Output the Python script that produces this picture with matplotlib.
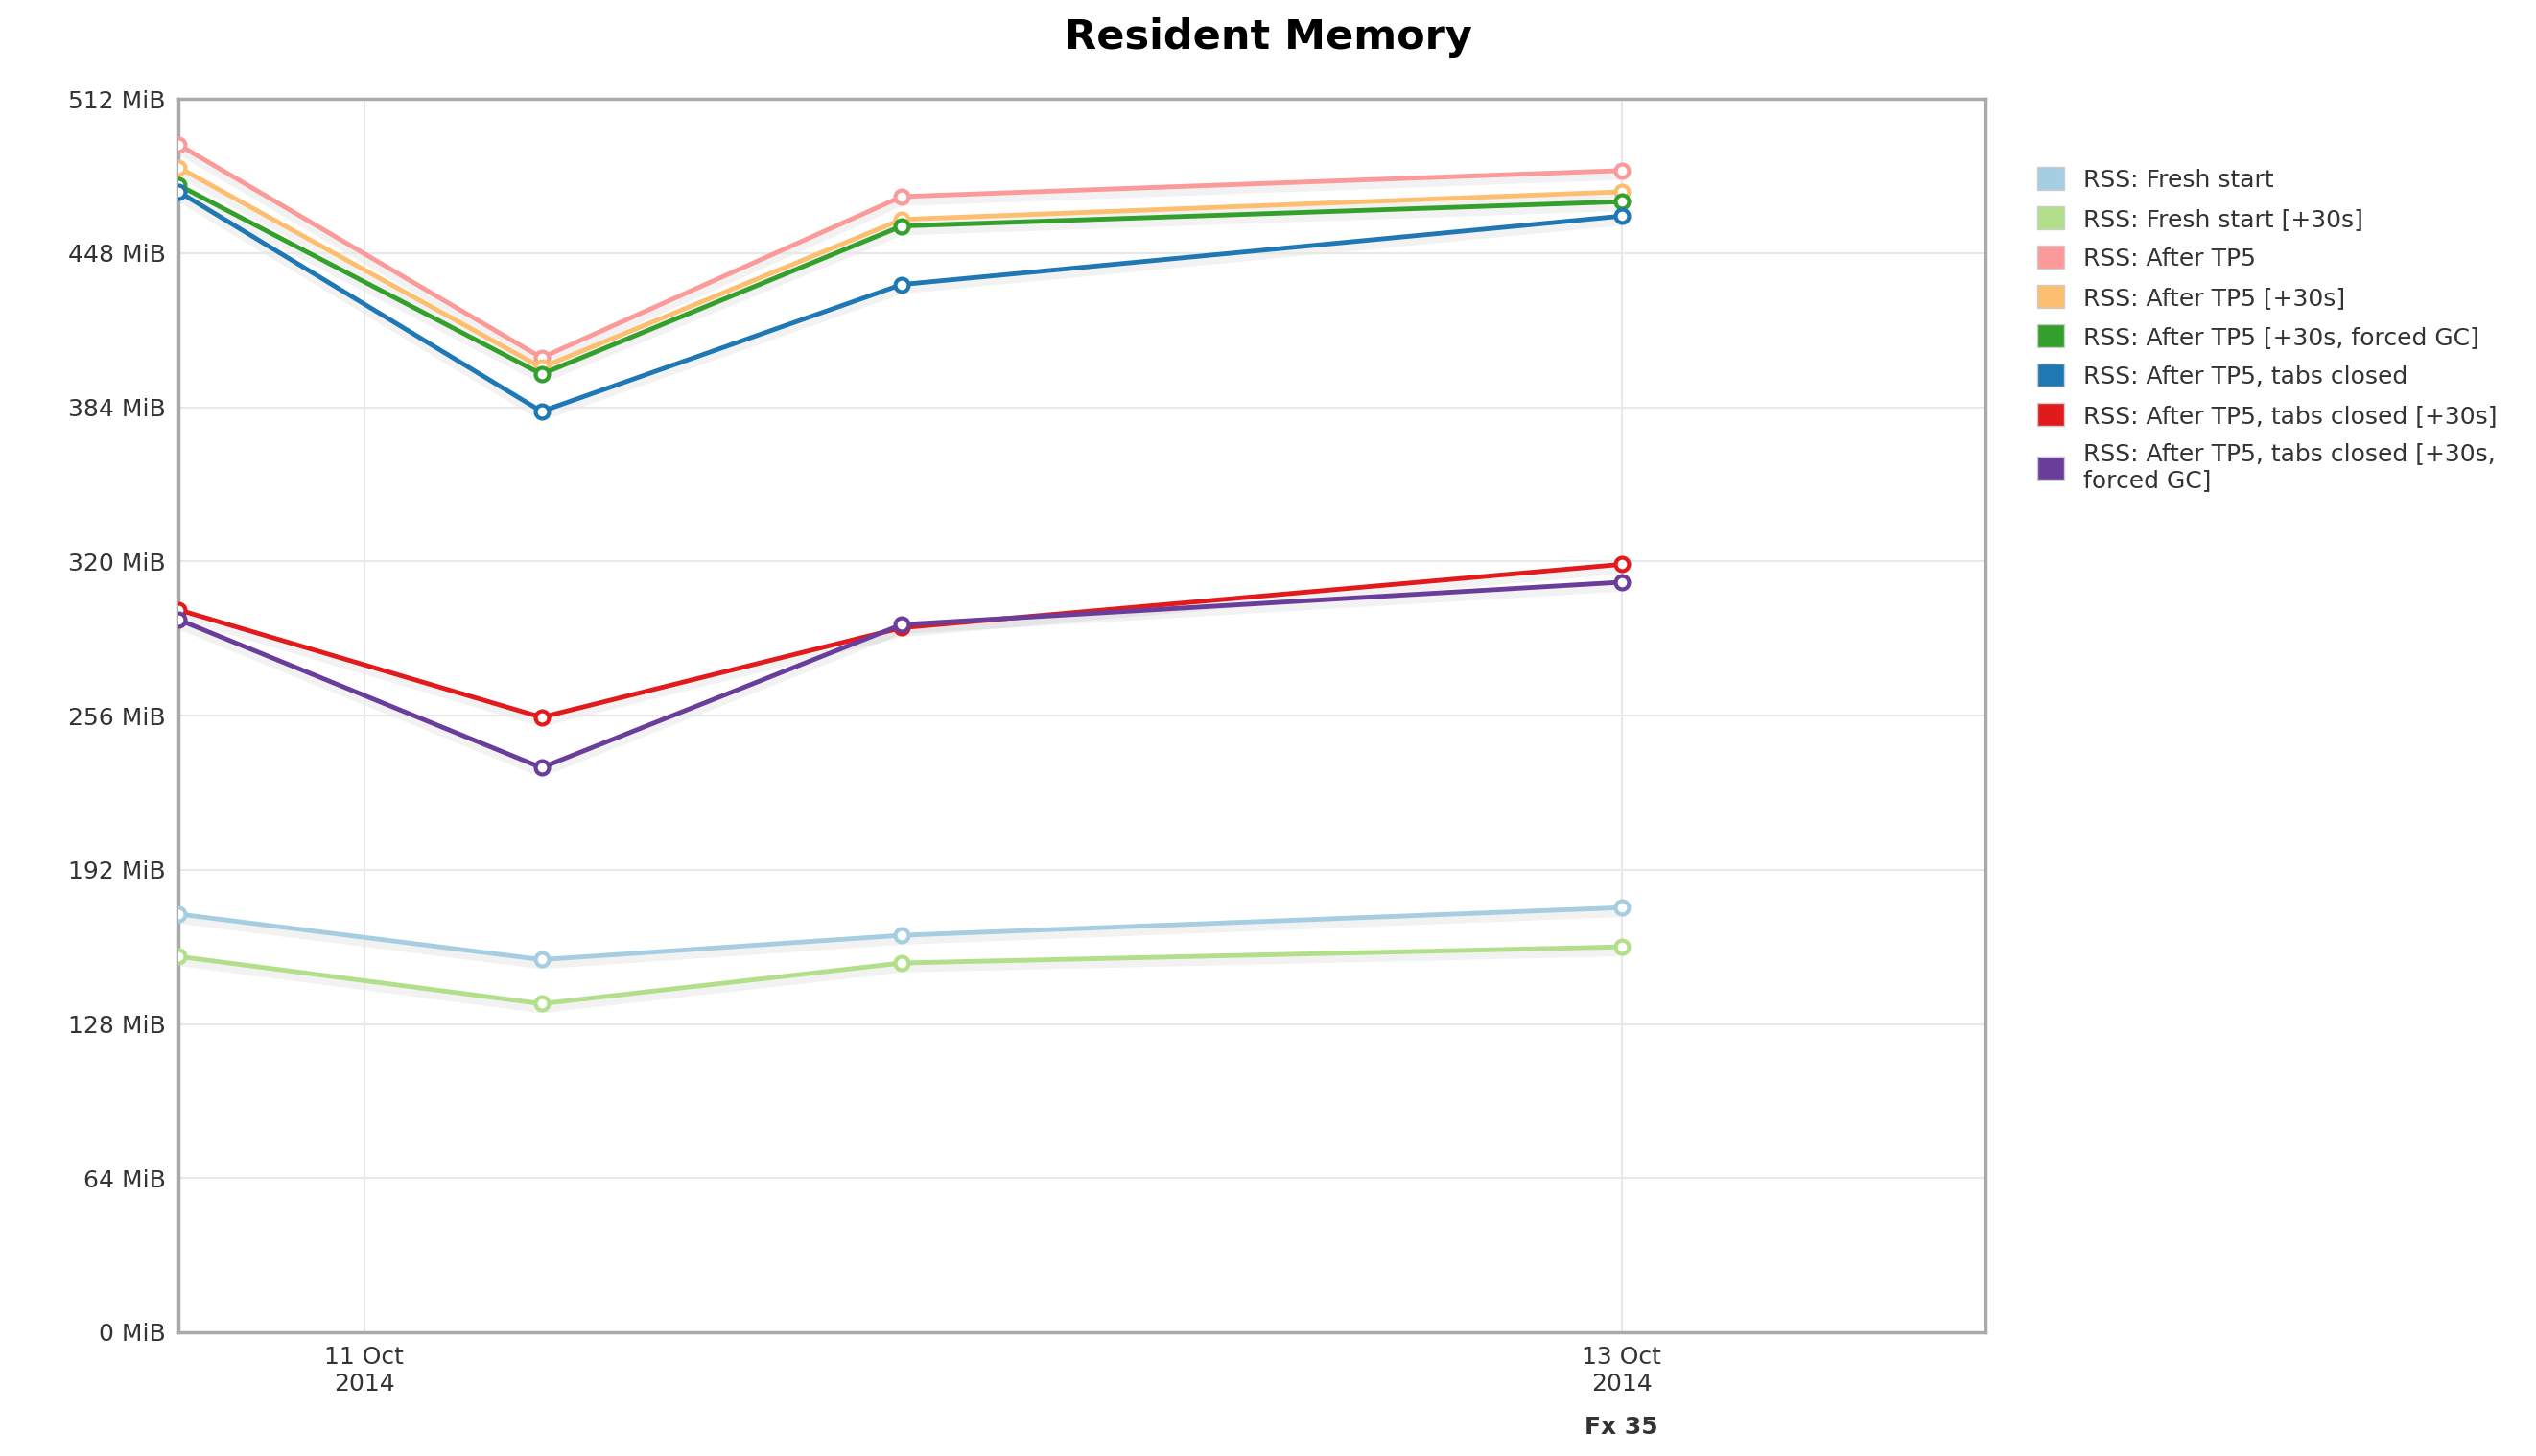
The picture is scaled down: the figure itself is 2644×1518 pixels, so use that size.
import matplotlib
matplotlib.use("Agg")
import matplotlib.pyplot as plt
from matplotlib.patches import Patch

# x in days relative to 11 Oct 2014 00:00
x = [-0.295, 0.282, 0.855, 2.0]
series_names = ["RSS: Fresh start", "RSS: Fresh start [+30s]", "RSS: After TP5", "RSS: After TP5 [+30s]",
                "RSS: After TP5 [+30s, forced GC]", "RSS: After TP5, tabs closed",
                "RSS: After TP5, tabs closed [+30s]", "RSS: After TP5, tabs closed [+30s,\nforced GC]"]
fresh = [173.6, 154.7, 164.8, 176.3]
fresh30 = [156.0, 136.4, 153.3, 160.0]
tp5 = [493.0, 404.6, 471.5, 482.3]
tp5_30 = [483.6, 400.5, 462.0, 473.5]
tp5_gc = [476.2, 397.8, 459.3, 469.4]
closed = [473.5, 382.3, 435.0, 463.4]
closed30 = [299.9, 255.3, 292.5, 318.8]
closed_gc = [295.8, 234.4, 293.8, 311.4]
values = [fresh, fresh30, tp5, tp5_30, tp5_gc, closed, closed30, closed_gc]
colors = ["#a6cee3", "#b2df8a", "#fb9a99", "#fdbf6f", "#33a02c", "#1f78b4", "#e31a1c", "#6a3d9a"]
yticks = list(range(0, 513, 64))
xtick_pos = [0, 2]
xtick_labels = ["11 Oct\n2014", "13 Oct\n2014"]

fig = plt.figure(figsize=(26.44, 15.18), dpi=100)
ax = fig.add_axes([0.0705, 0.085, 0.7125, 0.847])
for v, c, n in zip(values, colors, series_names):
    ax.plot(x, [y - 2.0 for y in v], color="#000000", alpha=0.05, lw=7, zorder=1)
    ax.plot(x, v, color=c, lw=3.5, marker="o", ms=10, mfc="white", mec=c, mew=3, zorder=3, label=n)
ax.set_xlim(-0.295, 2.579)
ax.set_ylim(0, 512)
ax.set_yticks(yticks)
ax.set_yticklabels([f"{t} MiB" for t in yticks], fontsize=18, color="#333333")
ax.set_xticks(xtick_pos)
ax.set_xticklabels(xtick_labels, fontsize=18, color="#333333")
ax.text(2, -0.077, "Fx 35", transform=ax.get_xaxis_transform(), ha="center", va="center",
        fontsize=18, fontweight="bold", color="#333333")
ax.grid(True, color="#e8e8e8", lw=1.5)
ax.tick_params(length=0, pad=10)
for s in ax.spines.values():
    s.set_color("#aaaaaa")
    s.set_linewidth(2.5)
fig.suptitle("Resident Memory", y=0.988, fontsize=31, fontweight="bold")
handles = [Patch(facecolor=c, edgecolor="#cccccc") for c in colors]
fig.legend(handles, series_names, loc="upper left", bbox_to_anchor=(0.795, 0.9), frameon=False,
           fontsize=18, handlelength=1.1, handleheight=1.1, labelspacing=0.62, labelcolor="#333333")
fig.savefig("out.png", dpi=100)
